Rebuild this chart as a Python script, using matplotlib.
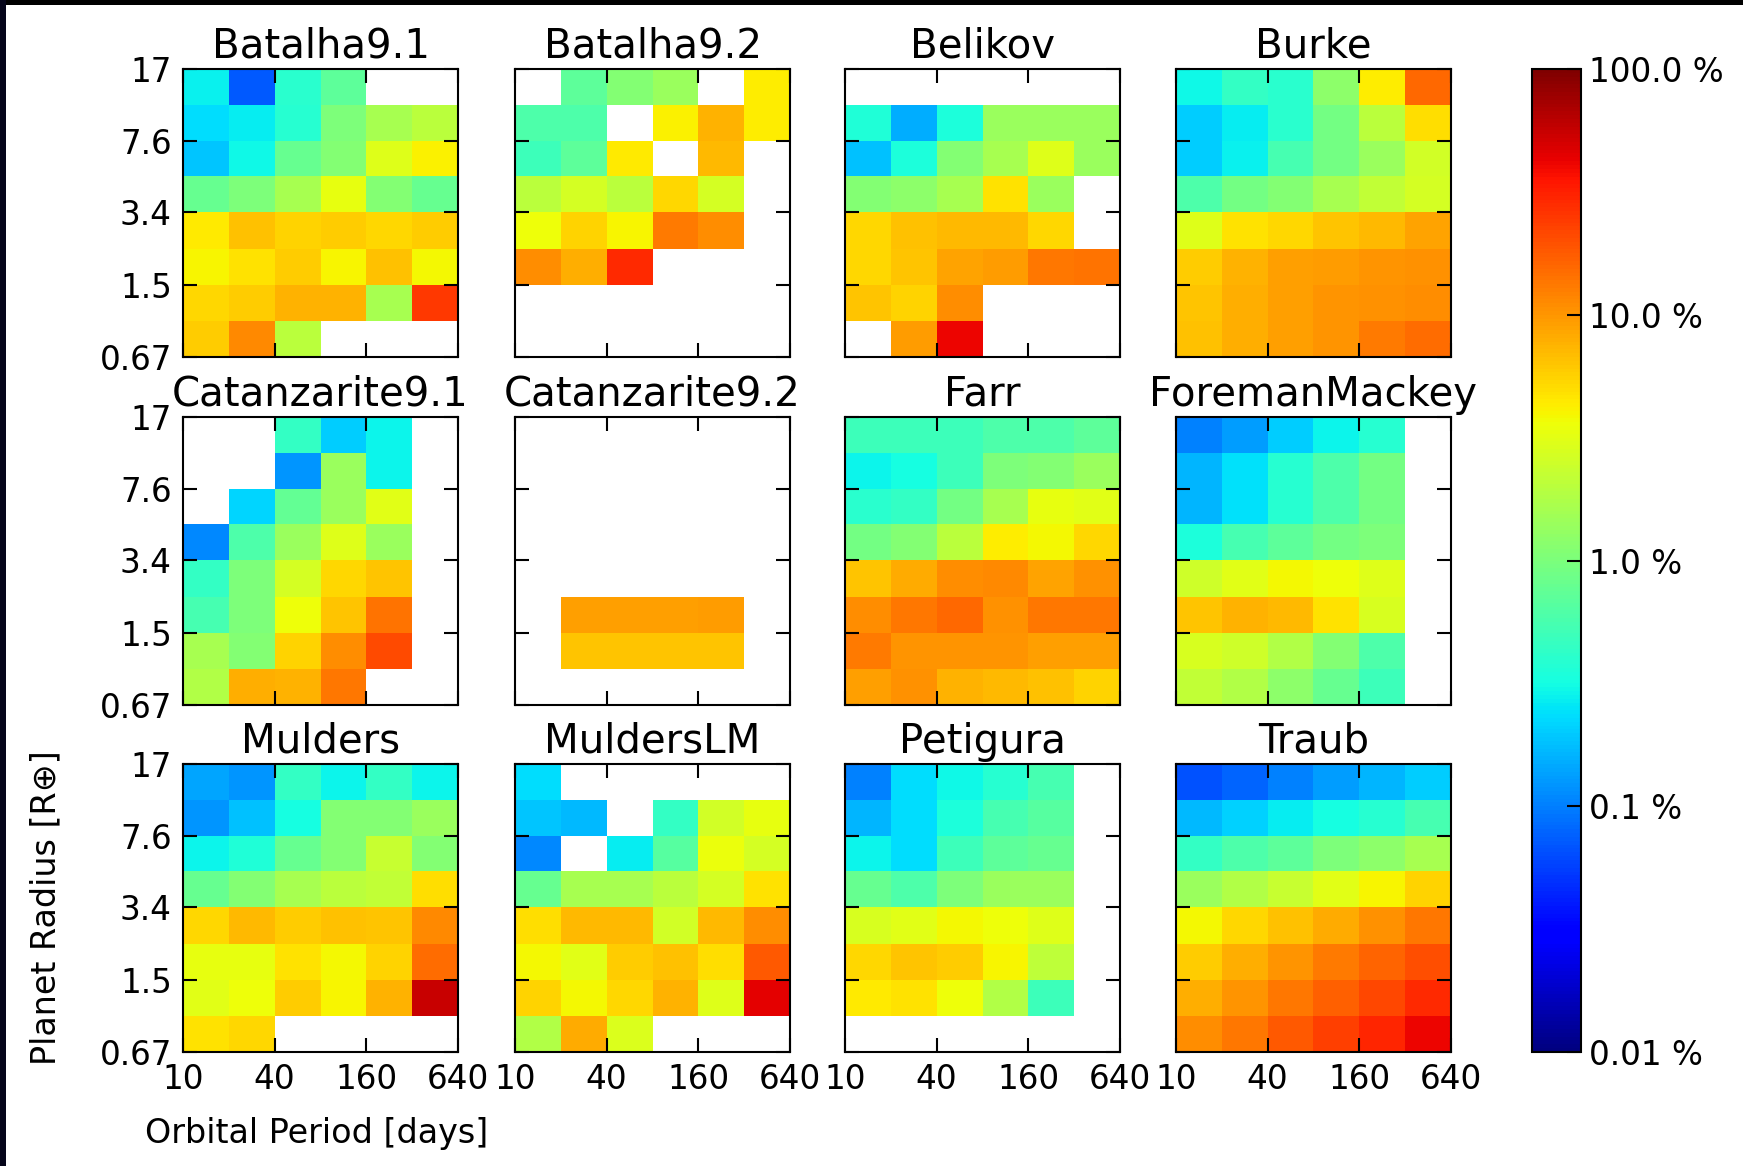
"""Occurrence-rate grids (percent per period/radius cell) for twelve teams."""
import matplotlib

matplotlib.use("Agg")
import matplotlib.pyplot as plt
import numpy as np
from matplotlib.colors import LogNorm
from matplotlib.patches import Rectangle

nan = np.nan

period_edges = [10, 20, 40, 80, 160, 320, 640]
radius_edges = [0.67, 1.0, 1.5, 2.25, 3.4, 5.1, 7.6, 11.4, 17.0]
period_ticks = [10, 40, 160, 640]
period_ticklabels = ["10", "40", "160", "640"]
radius_ticks = [0.67, 1.5, 3.4, 7.6, 17.0]
radius_ticklabels = ["0.67", "1.5", "3.4", "7.6", "17"]
cbar_ticks = [0.01, 0.1, 1.0, 10.0, 100.0]
cbar_ticklabels = ["0.01 %", "0.1 %", "1.0 %", "10.0 %", "100.0 %"]

# rows listed from the top (largest radius) to the bottom, values in percent
batalha91 = [
    [0.28, 0.07, 0.40, 0.70, nan, nan],
    [0.23, 0.27, 0.38, 1.0, 1.6, 2.0],
    [0.19, 0.30, 0.80, 1.1, 3.0, 4.2],
    [0.80, 1.0, 1.6, 3.3, 1.1, 0.80],
    [4.5, 6.5, 5.5, 6.0, 5.3, 6.0],
    [4.0, 4.8, 6.0, 4.0, 6.5, 3.8],
    [5.3, 6.0, 7.5, 7.5, 1.6, 25.0],
    [6.0, 11.5, 2.0, nan, nan, nan],
]
batalha92 = [
    [nan, 0.70, 1.1, 1.4, nan, 4.3],
    [0.60, 0.60, nan, 4.2, 7.5, 4.3],
    [0.50, 0.70, 4.5, nan, 7.0, nan],
    [2.0, 2.7, 2.0, 5.3, 2.7, nan],
    [3.6, 5.5, 4.0, 13.0, 11.0, nan],
    [11.0, 8.0, 29.0, nan, nan, nan],
    [nan, nan, nan, nan, nan, nan],
    [nan, nan, nan, nan, nan, nan],
]
belikov = [
    [nan, nan, nan, nan, nan, nan],
    [0.36, 0.15, 0.34, 1.4, 1.4, 1.4],
    [0.18, 0.34, 1.1, 1.6, 3.0, 1.4],
    [1.1, 1.2, 1.6, 4.8, 1.4, nan],
    [5.3, 6.5, 7.0, 7.0, 5.3, nan],
    [5.3, 6.3, 8.7, 9.5, 13.5, 14.0],
    [6.3, 5.5, 11.0, nan, nan, nan],
    [nan, 9.5, 42.0, nan, nan, nan],
]
burke = [
    [0.30, 0.44, 0.40, 1.2, 4.3, 15.5],
    [0.20, 0.27, 0.40, 0.90, 2.0, 5.0],
    [0.20, 0.28, 0.55, 0.90, 1.4, 2.6],
    [0.60, 0.90, 1.1, 1.6, 2.2, 2.7],
    [3.0, 4.8, 5.3, 6.3, 7.2, 8.7],
    [6.0, 7.5, 9.0, 9.5, 10.0, 10.5],
    [6.3, 8.0, 9.0, 10.0, 10.5, 11.0],
    [6.5, 8.0, 9.0, 10.0, 13.0, 15.0],
]
catanzarite91 = [
    [nan, nan, 0.44, 0.20, 0.29, nan],
    [nan, nan, 0.12, 1.4, 0.29, nan],
    [nan, 0.22, 0.75, 1.4, 3.1, nan],
    [0.11, 0.60, 1.4, 3.0, 1.4, nan],
    [0.44, 1.0, 2.7, 5.3, 6.3, nan],
    [0.55, 1.0, 3.6, 6.3, 14.0, nan],
    [1.6, 1.1, 5.5, 11.0, 21.0, nan],
    [1.8, 8.0, 7.5, 13.5, nan, nan],
]
catanzarite92 = [
    [nan, nan, nan, nan, nan, nan],
    [nan, nan, nan, nan, nan, nan],
    [nan, nan, nan, nan, nan, nan],
    [nan, nan, nan, nan, nan, nan],
    [nan, nan, nan, nan, nan, nan],
    [nan, 9.0, 9.0, 9.0, 9.5, nan],
    [nan, 6.3, 6.3, 6.3, 6.3, nan],
    [nan, nan, nan, nan, nan, nan],
]
farr = [
    [0.50, 0.50, 0.50, 0.60, 0.60, 0.70],
    [0.29, 0.32, 0.50, 1.0, 1.1, 1.4],
    [0.40, 0.44, 0.90, 1.6, 3.3, 3.1],
    [0.90, 1.1, 2.0, 4.3, 3.8, 5.3],
    [6.3, 8.3, 11.0, 11.5, 8.7, 10.5],
    [11.0, 13.5, 15.5, 10.5, 13.5, 13.5],
    [13.0, 10.0, 10.0, 10.0, 9.0, 9.0],
    [9.0, 10.5, 7.5, 7.2, 6.5, 5.5],
]
foremanmackey = [
    [0.10, 0.13, 0.20, 0.29, 0.38, nan],
    [0.16, 0.24, 0.38, 0.60, 0.90, nan],
    [0.16, 0.24, 0.38, 0.60, 0.90, nan],
    [0.34, 0.55, 0.70, 0.90, 1.0, nan],
    [2.5, 3.1, 3.8, 3.6, 3.0, nan],
    [6.3, 7.5, 7.0, 4.8, 2.8, nan],
    [2.8, 2.5, 1.8, 1.1, 0.60, nan],
    [2.2, 1.8, 1.2, 0.80, 0.50, nan],
]
mulders = [
    [0.14, 0.12, 0.44, 0.29, 0.44, 0.29],
    [0.12, 0.18, 0.32, 1.1, 1.1, 1.4],
    [0.29, 0.36, 0.80, 1.1, 2.3, 1.1],
    [0.80, 1.1, 1.6, 2.0, 2.2, 5.0],
    [5.3, 7.0, 6.0, 6.5, 6.3, 11.5],
    [3.3, 3.3, 4.8, 3.8, 5.5, 15.0],
    [3.1, 3.6, 6.0, 4.0, 7.5, 56.0],
    [4.8, 5.3, nan, nan, nan, nan],
]
mulderslm = [
    [0.23, nan, nan, nan, nan, nan],
    [0.19, 0.17, nan, 0.44, 2.6, 3.3],
    [0.11, nan, 0.27, 0.65, 3.4, 2.7],
    [0.80, 1.6, 1.6, 2.0, 2.7, 4.8],
    [5.0, 7.2, 7.2, 2.6, 7.0, 11.0],
    [3.8, 3.1, 6.0, 6.5, 5.0, 18.0],
    [5.5, 3.8, 5.3, 7.5, 3.0, 44.0],
    [1.8, 8.3, 2.9, nan, nan, nan],
]
petigura = [
    [0.10, 0.23, 0.30, 0.38, 0.55, nan],
    [0.16, 0.23, 0.34, 0.55, 0.65, nan],
    [0.29, 0.23, 0.50, 0.70, 0.80, nan],
    [0.80, 0.60, 1.0, 1.4, 1.4, nan],
    [2.8, 3.1, 3.8, 3.6, 3.0, nan],
    [5.3, 6.3, 6.0, 4.0, 2.1, nan],
    [4.5, 4.8, 3.6, 1.8, 0.50, nan],
    [nan, nan, nan, nan, nan, nan],
]
traub = [
    [0.065, 0.08, 0.10, 0.13, 0.16, 0.20],
    [0.17, 0.21, 0.27, 0.32, 0.38, 0.55],
    [0.44, 0.60, 0.70, 1.0, 1.2, 1.6],
    [1.4, 1.8, 2.3, 3.1, 4.0, 5.5],
    [3.8, 5.3, 6.5, 8.3, 10.5, 13.5],
    [6.0, 8.0, 10.0, 13.0, 16.0, 20.0],
    [8.0, 10.0, 13.5, 17.0, 22.0, 29.0],
    [11.0, 13.5, 18.0, 23.0, 30.0, 42.0],
]

names = [
    "Batalha9.1", "Batalha9.2", "Belikov", "Burke",
    "Catanzarite9.1", "Catanzarite9.2", "Farr", "ForemanMackey",
    "Mulders", "MuldersLM", "Petigura", "Traub",
]
grids = [
    batalha91, batalha92, belikov, burke,
    catanzarite91, catanzarite92, farr, foremanmackey,
    mulders, mulderslm, petigura, traub,
]

W, H = 1743, 1166


def px_rect(left, top, width, height):
    """Pixel box (top-left origin) -> figure fraction rect."""
    return [left / W, 1 - (top + height) / H, width / W, height / H]


col_left = [183, 515, 845, 1176]
row_top = [69, 417, 764]
panel_w, panel_h = 275, 288

fig = plt.figure(figsize=(W / 100, H / 100), dpi=100)
fig.patch.set_facecolor("white")

# dark slide edges visible at the top and left of the screenshot
fig.patches.append(Rectangle((0, 1 - 5 / H), 1, 5 / H, transform=fig.transFigure,
                             facecolor="#000000", edgecolor="none", zorder=-1))
fig.patches.append(Rectangle((0, 0), 6 / W, 1, transform=fig.transFigure,
                             facecolor="#05051a", edgecolor="none", zorder=-1))

norm = LogNorm(vmin=0.01, vmax=100)
cmap = plt.get_cmap("jet")
mesh = None

for k, (name, grid) in enumerate(zip(names, grids)):
    r, c = divmod(k, 4)
    ax = fig.add_axes(px_rect(col_left[c], row_top[r], panel_w, panel_h))
    vals = np.ma.masked_invalid(np.flipud(np.array(grid, dtype=float)))
    mesh = ax.pcolormesh(period_edges, radius_edges, vals, cmap=cmap, norm=norm,
                         edgecolors="face", linewidth=0)
    ax.set_xscale("log")
    ax.set_yscale("log")
    ax.set_xlim(period_edges[0], period_edges[-1])
    ax.set_ylim(radius_edges[0], radius_edges[-1])
    ax.xaxis.set_minor_locator(matplotlib.ticker.NullLocator())
    ax.yaxis.set_minor_locator(matplotlib.ticker.NullLocator())
    ax.set_xticks(period_ticks)
    ax.set_yticks(radius_ticks)
    ax.set_xticklabels(period_ticklabels if r == 2 else [])
    ax.set_yticklabels(radius_ticklabels if c == 0 else [])
    ax.tick_params(direction="in", length=10, width=1.5, top=True, right=True,
                   labelsize=23.5, pad=8, colors="black")
    for sp in ax.spines.values():
        sp.set_linewidth(1.5)
    ax.set_title(name, fontsize=29, pad=8)

fig.text(317 / W, 1 - 1134 / H, "Orbital Period [days]", fontsize=24,
         ha="center", va="center")
fig.text(46 / W, 1 - 908 / H, "Planet Radius [R\u2295]", fontsize=24,
         ha="center", va="center", rotation=90)

cax = fig.add_axes(px_rect(1532, 69, 49, 983))
cb = fig.colorbar(mesh, cax=cax, ticks=cbar_ticks)
cb.ax.set_yticklabels(cbar_ticklabels)
cb.ax.yaxis.set_minor_locator(matplotlib.ticker.NullLocator())
cb.ax.tick_params(direction="in", length=10, width=1.5, labelsize=23.5, pad=6)
cb.outline.set_linewidth(1.5)

fig.savefig("out.png", dpi=100, facecolor=fig.get_facecolor())
